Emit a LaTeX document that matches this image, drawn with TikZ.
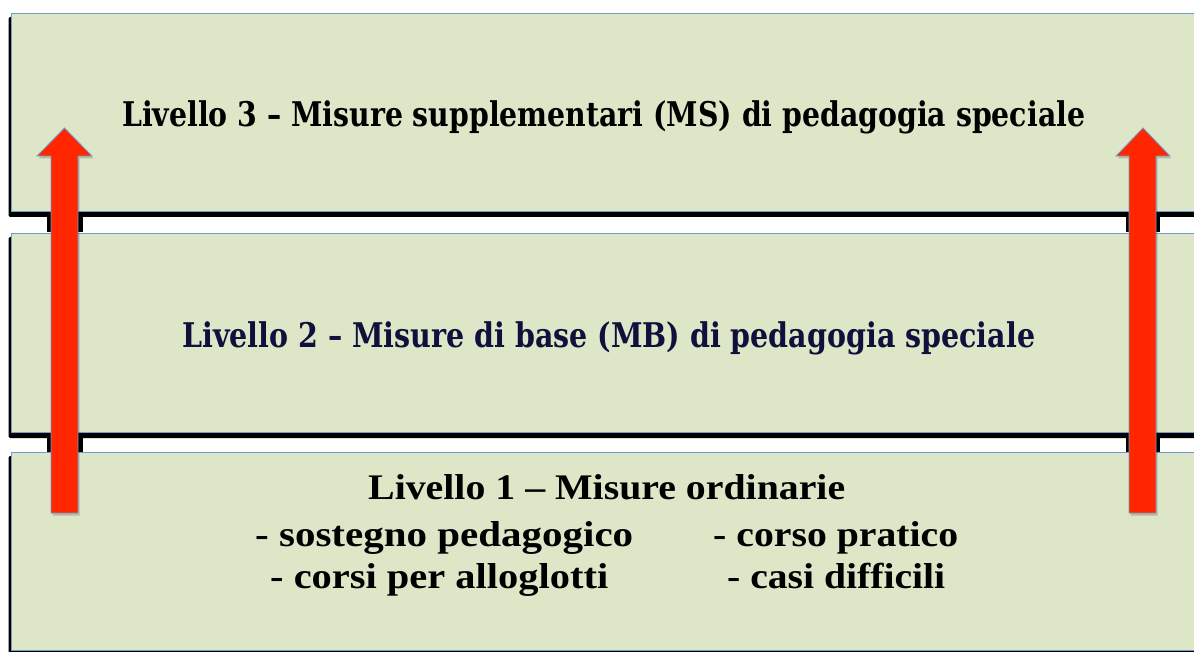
\documentclass[tikz,border=0pt]{standalone}
\usepackage{fontspec}
\usepackage{graphicx}
\newfontfamily\slabfont{DejaVu Serif Condensed}
\newfontfamily\lvlfont{Liberation Serif}
\definecolor{bandfill}{HTML}{DEE6C8}
\definecolor{bandline}{HTML}{6F9BD0}
\definecolor{arrowred}{HTML}{FF2600}
\definecolor{navytext}{HTML}{10103C}
\tikzset{
  bandbox/.style={rectangle, fill=bandfill, draw=bandline, line width=1pt, inner sep=0pt, anchor=north west, minimum width=1200pt},
  bandshadow/.style={fill=black, rounded corners=2pt},
  gapmark/.style={fill=black},
  upband/.style={fill=arrowred, draw=bandline, line width=0.8pt, line join=miter},
  upshadow/.style={fill=black, opacity=0.18},
  lbl/.style={inner sep=0pt, anchor=base west},
}
\newcommand{\slabtxt}[2]{\resizebox{#1}{\height}{\slabfont\bfseries\fontsize{34}{40}\selectfont #2}}
\newcommand{\lvltxt}[2]{\resizebox{#1}{\height}{\lvlfont\bfseries\fontsize{36}{42}\selectfont #2}}
\begin{document}
\begin{tikzpicture}[x=1pt,y=-1pt]
\clip (0,0) rectangle (1194,652);
\fill[white] (0,0) rectangle (1194,652);
% band 3 (top)
\fill[bandshadow] (8.5,17) rectangle (1210,217);
\fill[gapmark] (47,212) rectangle (82.5,232);
\fill[gapmark] (1125.5,212) rectangle (1160,232);
\node[bandbox, minimum height=198.5pt] (b3) at (11,13) {};
% band 2
\fill[bandshadow] (8.5,237) rectangle (1210,438);
\fill[gapmark] (47,433) rectangle (82.5,451.5);
\fill[gapmark] (1125.5,433) rectangle (1160,451.5);
\node[bandbox, minimum height=199.5pt] (b2) at (11,232.7) {};
% band 1
\fill[bandshadow] (8.5,456) rectangle (1210,660);
\node[bandbox, minimum height=198.5pt] (b1) at (11,451.7) {};
% texts
\node[lbl] (t3) at (122,127) {\slabtxt{963pt}{Livello 3 – Misure supplementari (MS) di pedagogia speciale}};
\node[lbl, text=navytext] (t2) at (182,347) {\slabtxt{853pt}{Livello 2 – Misure di base (MB) di pedagogia speciale}};
\node[lbl] (t1) at (368,499) {\lvltxt{477pt}{Livello 1 – Misure ordinarie}};
\node[lbl] (t1a) at (255,546) {\lvltxt{378pt}{- sostegno pedagogico}};
\node[lbl] (t1b) at (713,546) {\lvltxt{245pt}{- corso pratico}};
\node[lbl] (t1c) at (270,588) {\lvltxt{338pt}{- corsi per alloglotti}};
\node[lbl] (t1d) at (727,588) {\lvltxt{218pt}{- casi difficili}};
% arrows
\fill[upshadow] (52.5,515.5) -- (52.5,158.5) -- (38.5,158.5) -- (66,130.5) -- (93.5,158.5) -- (79.5,158.5) -- (79.5,515.5) -- cycle;
\filldraw[upband] (51,513) -- (51,156) -- (37,156) -- (64.5,128) -- (92,156) -- (78,156) -- (78,513) -- cycle;
\fill[upshadow] (1130.5,515.5) -- (1130.5,158.5) -- (1117.5,158.5) -- (1144.5,130.5) -- (1171.5,158.5) -- (1157.5,158.5) -- (1157.5,515.5) -- cycle;
\filldraw[upband] (1129,513) -- (1129,156) -- (1116,156) -- (1143,128) -- (1170,156) -- (1156,156) -- (1156,513) -- cycle;
\end{tikzpicture}
\end{document}
